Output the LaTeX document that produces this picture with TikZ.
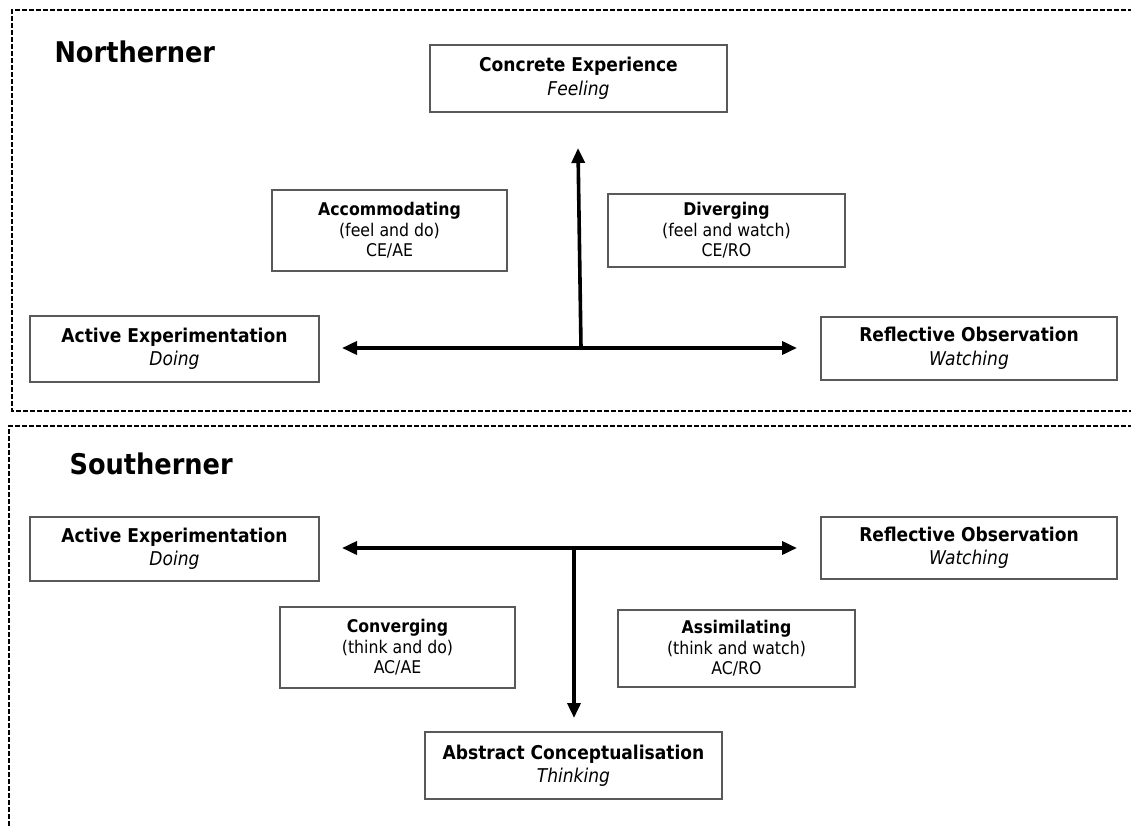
\documentclass[tikz,border=0pt]{standalone}
\usepackage{fontspec}
\setmainfont{DejaVu Sans Condensed}
\usetikzlibrary{arrows.meta}
\begin{document}
\begin{tikzpicture}[x=1pt,y=-1pt,
  box/.style={draw=black!65, line width=1.1pt, align=center, inner sep=0pt, font=\fontsize{19}{23.5}\selectfont},
  quad/.style={box, font=\fontsize{17.5}{20.5}\selectfont},
  frame/.style={draw=black, line width=1.2pt, dash pattern=on 5pt off 2pt},
  axis/.style={draw=black, line width=3.6pt},
  tip/.style={-{Triangle[length=15pt,width=13pt]}},
  title/.style={font=\fontsize{28.5}{32}\selectfont\bfseries, anchor=west}]
\useasboundingbox (0,0) rectangle (1131,826);
\clip (0,0) rectangle (1131,826);
% frames
\draw[frame] (1140,10) -- (12,10) -- (12,411) -- (1140,411);
\draw[frame] (1140,426) -- (9,426) -- (9,840);
\node[title] (nt) at (51,52) {Northerner};
\node[title] (st) at (66,464) {Southerner};
% Northerner
\node[box, minimum width=297pt, minimum height=67pt] (ce) at (578.5,78.5) {\textbf{Concrete Experience}\\\textit{Feeling}};
\node[quad, minimum width=235pt, minimum height=81pt] (acc) at (389.5,230.5) {\textbf{Accommodating}\\(feel and do)\\CE/AE};
\node[quad, minimum width=237pt, minimum height=73pt] (div) at (726.5,230.5) {\textbf{Diverging}\\(feel and watch)\\CE/RO};
\node[box, minimum width=289pt, minimum height=66pt] (nae) at (174.5,349) {\textbf{Active Experimentation}\\\textit{Doing}};
\node[box, minimum width=296pt, minimum height=63pt] (nro) at (969,348.5) {\textbf{Reflective Observation}\\\textit{Watching}};
\coordinate (nc) at (581,348);
\coordinate (nl) at (342,348);
\coordinate (nr) at (797,348);
\coordinate (nu) at (578,148);
\draw[axis,tip] (nc) -- (nl);
\draw[axis,tip] (nc) -- (nr);
\draw[axis,tip] (nc) -- (nu);
% Southerner
\node[box, minimum width=289pt, minimum height=64pt] (sae) at (174.5,549) {\textbf{Active Experimentation}\\\textit{Doing}};
\node[box, minimum width=296pt, minimum height=62pt] (sro) at (969,548) {\textbf{Reflective Observation}\\\textit{Watching}};
\node[quad, minimum width=235pt, minimum height=81pt] (con) at (397.5,647.5) {\textbf{Converging}\\(think and do)\\AC/AE};
\node[quad, minimum width=237pt, minimum height=77pt] (ass) at (736.5,648.5) {\textbf{Assimilating}\\(think and watch)\\AC/RO};
\node[box, minimum width=297pt, minimum height=67pt] (ac) at (573.5,765.5) {\textbf{Abstract Conceptualisation}\\\textit{Thinking}};
\coordinate (sc) at (574,548);
\coordinate (sl) at (342,548);
\coordinate (sr) at (797,548);
\coordinate (sd) at (574,718);
\draw[axis,tip] (sc) -- (sl);
\draw[axis,tip] (sc) -- (sr);
\draw[axis,tip] (sc) -- (sd);
\end{tikzpicture}
\end{document}
